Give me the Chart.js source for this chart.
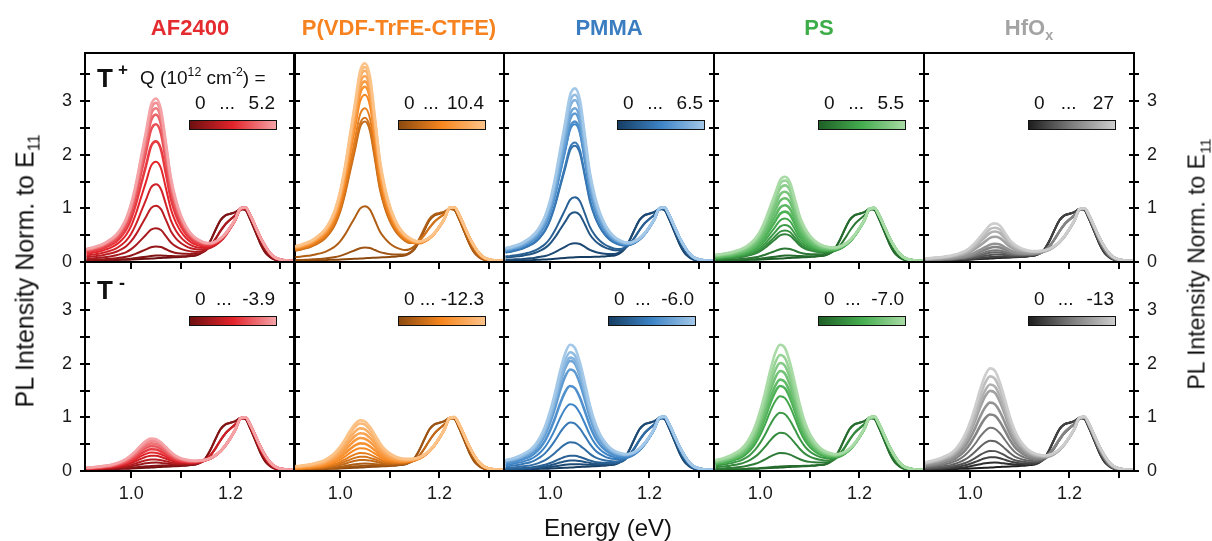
<!DOCTYPE html>
<html>
<head>
<meta charset="utf-8">
<title>PL spectra vs. gate charge</title>
<script src="https://cdn.jsdelivr.net/npm/chart.js@4.4.1/dist/chart.umd.min.js"></script>
<style>
  html, body { margin: 0; padding: 0; background: #fff; }
  #figure { position: relative; width: 1212px; height: 541px; overflow: hidden;
            font-family: "Liberation Sans", Arial, Helvetica, sans-serif; color: #111; }
  #figure canvas { position: absolute; }
  .txt { position: absolute; white-space: nowrap; line-height: 1; z-index: 5; }
  .bar { position: absolute; box-sizing: border-box; border: 1.5px solid #111; z-index: 5; }
  .range { position: absolute; box-sizing: border-box; display: flex; justify-content: space-between;
           font-size: 19px; line-height: 1; transform: translateY(-50%); z-index: 5; padding: 0 2px 0 6px; }
  sub, sup { font-size: 65%; line-height: 0; }
</style>
</head>
<body>
<div id="figure"></div>
<script>
  // Energy grid (eV) and line shapes
  const energy = [0.91, 0.92, 0.93, 0.94, 0.95, 0.96, 0.97, 0.98, 0.99, 1.00,
                  1.01, 1.02, 1.03, 1.04, 1.05, 1.06, 1.07, 1.08, 1.09, 1.10,
                  1.11, 1.12, 1.13, 1.14, 1.15, 1.16, 1.17, 1.18, 1.19, 1.20,
                  1.21, 1.22, 1.23, 1.24, 1.25, 1.26, 1.27, 1.28, 1.29, 1.30,
                  1.31, 1.32, 1.33];
  // trion band, normalised to its own peak (T+ near 1.05 eV, T- near 1.04 eV)
  const trionPlus = [0.075, 0.082, 0.09, 0.10, 0.115, 0.135, 0.16, 0.20, 0.26, 0.35,
                     0.48, 0.64, 0.80, 0.96, 1.00, 0.93, 0.72, 0.50, 0.36, 0.26,
                     0.19, 0.14, 0.105, 0.08, 0.06, 0.045, 0.035, 0.027, 0.02, 0.015,
                     0.011, 0.008, 0.006, 0.004, 0.003, 0.002, 0.002, 0.001, 0.001, 0.001,
                     0, 0, 0];
  const trionMinus = [0.08, 0.09, 0.10, 0.115, 0.135, 0.16, 0.20, 0.26, 0.35, 0.47,
                      0.62, 0.79, 0.93, 1.00, 0.97, 0.85, 0.68, 0.50, 0.36, 0.26,
                      0.19, 0.14, 0.105, 0.08, 0.06, 0.045, 0.034, 0.026, 0.02, 0.015,
                      0.011, 0.008, 0.006, 0.004, 0.003, 0.002, 0.002, 0.001, 0.001, 0.001,
                      0, 0, 0];
  // E11 exciton band: undoped (dark shoulder), partly doped, doped
  const e11Dark = [0.02, 0.02, 0.025, 0.025, 0.03, 0.03, 0.035, 0.04, 0.04, 0.045,
                   0.05, 0.055, 0.06, 0.065, 0.07, 0.075, 0.08, 0.085, 0.09, 0.095,
                   0.10, 0.11, 0.12, 0.16, 0.24, 0.40, 0.60, 0.78, 0.87, 0.90,
                   0.93, 0.99, 0.97, 0.79, 0.57, 0.35, 0.18, 0.09, 0.04, 0.02,
                   0.015, 0.01, 0.01];
  const e11Mid = [0.02, 0.02, 0.025, 0.025, 0.03, 0.03, 0.035, 0.04, 0.04, 0.045,
                  0.05, 0.055, 0.06, 0.065, 0.07, 0.075, 0.08, 0.085, 0.09, 0.10,
                  0.11, 0.12, 0.13, 0.15, 0.20, 0.29, 0.42, 0.57, 0.70, 0.79,
                  0.87, 0.97, 0.99, 0.83, 0.62, 0.41, 0.24, 0.12, 0.06, 0.03,
                  0.02, 0.015, 0.01];
  const e11Light = [0.02, 0.02, 0.025, 0.025, 0.03, 0.03, 0.035, 0.04, 0.04, 0.045,
                    0.05, 0.055, 0.06, 0.065, 0.07, 0.075, 0.08, 0.085, 0.09, 0.10,
                    0.11, 0.12, 0.135, 0.155, 0.18, 0.22, 0.28, 0.36, 0.47, 0.61,
                    0.77, 0.98, 1.00, 0.86, 0.66, 0.46, 0.29, 0.16, 0.08, 0.045,
                    0.03, 0.02, 0.015];

  // Column titles and the end of each Q range (10^12 cm^-2)
  const materials = ['AF2400', 'P(VDF-TrFE-CTFE)', 'PMMA', 'PS', 'HfO<sub>x</sub>'];
  const qPlusEnd = ['5.2', '10.4', '6.5', '5.5', '27'];
  const qMinusEnd = ['-3.9', '-12.3', '-6.0', '-7.0', '-13'];

  // Trion peak height of every spectrum, low Q -> high Q,
  // and which E11 shape it shows (0 dark shoulder, 1 mid, 2 doped)
  const ampPlusAF = [0, 0.05, 0.22, 0.56, 0.98, 1.38, 1.80, 2.18, 2.50, 2.68, 2.80, 2.90, 2.98];
  const kindPlusAF = [0, 0, 1, 1, 2, 2, 2, 2, 2, 2, 2, 2, 2];
  const ampPlusPVDF = [0, 0.20, 0.97, 2.55, 2.62, 2.80, 3.05, 3.20, 3.30, 3.40, 3.50, 3.57, 3.64];
  const kindPlusPVDF = [0, 0, 0, 1, 1, 2, 2, 2, 2, 2, 2, 2, 2];
  const ampPlusPMMA = [0.02, 0.28, 0.86, 1.14, 2.10, 2.16, 2.50, 2.55, 2.70, 2.80, 2.95, 3.05, 3.17];
  const kindPlusPMMA = [0, 0, 1, 1, 2, 2, 2, 2, 2, 2, 2, 2, 2];
  const ampPlusPS = [0, 0.05, 0.18, 0.45, 0.52, 0.62, 0.74, 0.87, 0.99, 1.12, 1.24, 1.36, 1.45, 1.52];
  const kindPlusPS = [0, 0, 1, 2, 2, 2, 2, 2, 2, 2, 2, 2, 2, 2];
  const ampPlusHf = [0, 0.01, 0.03, 0.07, 0.11, 0.15, 0.21, 0.27, 0.40, 0.50, 0.57, 0.65];
  const kindPlusHf = [0, 0, 0, 1, 1, 1, 1, 2, 2, 2, 2, 2];

  const ampMinusAF = [0, 0.03, 0.09, 0.15, 0.22, 0.28, 0.34, 0.40, 0.45, 0.50, 0.54];
  const kindMinusAF = [0, 0, 1, 1, 1, 2, 2, 2, 2, 2, 2];
  const ampMinusPVDF = [0, 0.03, 0.07, 0.14, 0.20, 0.27, 0.36, 0.45, 0.55, 0.64, 0.73, 0.82, 0.88];
  const kindMinusPVDF = [0, 0, 1, 1, 2, 2, 2, 2, 2, 2, 2, 2, 2];
  const ampMinusPMMA = [0, 0.06, 0.13, 0.22, 0.47, 0.84, 1.18, 1.52, 1.83, 1.99, 2.05, 2.15, 2.29];
  const kindMinusPMMA = [0, 0, 1, 1, 1, 2, 2, 2, 2, 2, 2, 2, 2];
  const ampMinusPS = [0, 0.02, 0.27, 0.65, 1.02, 1.33, 1.52, 1.64, 1.80, 1.95, 2.10, 2.29];
  const kindMinusPS = [0, 0, 1, 1, 2, 2, 2, 2, 2, 2, 2, 2];
  const ampMinusHf = [0, 0.09, 0.19, 0.31, 0.50, 0.74, 0.99, 1.21, 1.43, 1.55, 1.70, 1.85];
  const kindMinusHf = [0, 0, 0, 1, 1, 1, 1, 2, 2, 2, 2, 2];

  // Axis ticks
  const xTickLabels = [1.0, 1.2];
  const xTickMarks = [1.0, 1.1, 1.2, 1.3];
  const yTickLabels = [0, 1, 2, 3];
  const yTickMarks = [0, 0.5, 1, 1.5, 2, 2.5, 3, 3.5];

  // Styles
  const titleColors = ['#e42b2f', '#f68220', '#3a7dc0', '#3cad48', '#a3a3a3'];
  const curveShades = [
    ['#6d0f10', '#e3242b', '#f4a3a7'],
    ['#8c4a0f', '#f7871f', '#fcc389'],
    ['#163e63', '#3d84c6', '#a3c8e8'],
    ['#1f5f27', '#45ad4f', '#a8dba5'],
    ['#1e1e1e', '#7d7d7d', '#cdcdcd']
  ];

  const panels = [
    { row: 0, col: 0, amps: ampPlusAF, kinds: kindPlusAF },
    { row: 0, col: 1, amps: ampPlusPVDF, kinds: kindPlusPVDF },
    { row: 0, col: 2, amps: ampPlusPMMA, kinds: kindPlusPMMA },
    { row: 0, col: 3, amps: ampPlusPS, kinds: kindPlusPS },
    { row: 0, col: 4, amps: ampPlusHf, kinds: kindPlusHf },
    { row: 1, col: 0, amps: ampMinusAF, kinds: kindMinusAF },
    { row: 1, col: 1, amps: ampMinusPVDF, kinds: kindMinusPVDF },
    { row: 1, col: 2, amps: ampMinusPMMA, kinds: kindMinusPMMA },
    { row: 1, col: 3, amps: ampMinusPS, kinds: kindMinusPS },
    { row: 1, col: 4, amps: ampMinusHf, kinds: kindMinusHf }
  ];

  // Layout of the grid (page pixels)
  const colLeft = [85, 294, 504, 714, 924];
  const rowTop = [53, 262];
  const panelW = 210, panelH = 209, PAD = 50;
  const FONT = '"Liberation Sans", Arial, Helvetica, sans-serif';
  Chart.defaults.font.family = FONT;

  function hexToRgb(h) {
    return [parseInt(h.slice(1, 3), 16), parseInt(h.slice(3, 5), 16), parseInt(h.slice(5, 7), 16)];
  }
  function shade(stops, t) {
    let a, b, f;
    if (t < 0.5) { a = stops[0]; b = stops[1]; f = t / 0.5; }
    else { a = stops[1]; b = stops[2]; f = (t - 0.5) / 0.5; }
    const ca = hexToRgb(a), cb = hexToRgb(b);
    const c = ca.map((v, i) => Math.round(v + (cb[i] - v) * f));
    return 'rgb(' + c.join(',') + ')';
  }

  const e11Shapes = [e11Dark, e11Mid, e11Light];

  function buildSpectra(p) {
    const trion = p.row === 0 ? trionPlus : trionMinus;
    const n = p.amps.length;
    const sets = p.amps.map((a, k) => ({
      data: energy.map((e, i) => ({ x: e, y: a * trion[i] + e11Shapes[p.kinds[k]][i] })),
      borderColor: shade(curveShades[p.col], k / (n - 1)),
      borderWidth: k >= n / 2 ? 2.6 : 2, // noisy high-Q spectra look thicker
      pointRadius: 0,
      cubicInterpolationMode: 'monotone',
      fill: false,
      xAxisID: 'x',
      yAxisID: 'y'
    }));
    return sets.reverse(); // high-Q (light) curves on top
  }

  // black frame plus tick marks crossing the frame
  const framePlugin = {
    id: 'frame',
    afterDatasetsDraw(chart) {
      const ctx = chart.ctx, a = chart.chartArea;
      const x = chart.scales.x, y = chart.scales.y;
      ctx.save();
      ctx.strokeStyle = '#000';
      ctx.lineWidth = 2;
      ctx.strokeRect(a.left, a.top, a.right - a.left, a.bottom - a.top);
      ctx.beginPath();
      yTickMarks.forEach(v => {
        const py = Math.round(y.getPixelForValue(v));
        ctx.moveTo(a.left - 5, py); ctx.lineTo(a.left + 5, py);
        ctx.moveTo(a.right - 5, py); ctx.lineTo(a.right + 5, py);
      });
      xTickMarks.forEach(v => {
        const px = Math.round(x.getPixelForValue(v));
        ctx.moveTo(px, a.bottom); ctx.lineTo(px, a.bottom + 7);
      });
      ctx.stroke();
      ctx.restore();
    }
  };

  const figure = document.getElementById('figure');

  panels.forEach(p => {
    const canvas = document.createElement('canvas');
    canvas.width = panelW + 2 * PAD;
    canvas.height = panelH + 2 * PAD;
    canvas.style.left = (colLeft[p.col] - PAD) + 'px';
    canvas.style.top = (rowTop[p.row] - PAD) + 'px';
    figure.appendChild(canvas);

    const tickFont = { size: 18, family: FONT };
    new Chart(canvas.getContext('2d'), {
      type: 'line',
      data: { datasets: buildSpectra(p) },
      options: {
        responsive: false,
        animation: false,
        events: [],
        layout: { padding: { top: PAD } },
        plugins: { legend: { display: false }, tooltip: { enabled: false } },
        scales: {
          x: {
            type: 'linear', min: 0.907, max: 1.33,
            grid: { display: false, drawTicks: false }, border: { display: false },
            afterBuildTicks: s => { s.ticks = xTickLabels.map(v => ({ value: v })); },
            ticks: { display: p.row === 1, padding: 12, font: tickFont, color: '#1a1a1a',
                     callback: v => v.toFixed(1) },
            afterFit: s => { s.height = PAD; }
          },
          y: {
            position: 'left', min: 0, max: 3.9,
            grid: { display: false, drawTicks: false }, border: { display: false },
            afterBuildTicks: s => { s.ticks = yTickLabels.map(v => ({ value: v })); },
            ticks: { display: p.col === 0, padding: 13, font: tickFont, color: '#1a1a1a' },
            afterFit: s => { s.width = PAD; }
          },
          yR: {
            position: 'right', min: 0, max: 3.9,
            grid: { display: false, drawTicks: false }, border: { display: false },
            afterBuildTicks: s => { s.ticks = yTickLabels.map(v => ({ value: v })); },
            ticks: { display: p.col === 4, padding: 13, font: tickFont, color: '#1a1a1a' },
            afterFit: s => { s.width = PAD; }
          }
        }
      },
      plugins: [framePlugin]
    });
  });

  // ---- text and colour bars ----
  function addText(html, x, y, css) {
    const d = document.createElement('div');
    d.className = 'txt';
    d.innerHTML = html;
    d.style.left = x + 'px';
    d.style.top = y + 'px';
    Object.assign(d.style, css || {});
    figure.appendChild(d);
    return d;
  }

  materials.forEach((m, c) => {
    addText(m, colLeft[c] + panelW / 2, 28, { fontWeight: 'bold', fontSize: '22px',
      color: titleColors[c], transform: 'translate(-50%, -50%)' });
  });

  addText('T', 97, 77.5, { fontWeight: 'bold', fontSize: '26px', transform: 'translateY(-50%)' });
  addText('+', 118, 69, { fontWeight: 'bold', fontSize: '17px', transform: 'translateY(-50%)' });
  addText('Q (10<sup>12</sup> cm<sup>-2</sup>) =', 140, 77, { fontSize: '19px', transform: 'translateY(-50%)' });
  addText('T', 97, 290, { fontWeight: 'bold', fontSize: '26px', transform: 'translateY(-50%)' });
  addText('-', 119, 283, { fontWeight: 'bold', fontSize: '18px', transform: 'translateY(-50%)' });

  [qPlusEnd, qMinusEnd].forEach((ends, r) => {
    ends.forEach((q, c) => {
      const left = colLeft[c] + (r === 0 && c === 2 ? 113 : 104);
      const barTop = rowTop[r] + (r === 0 ? 67 : 54);
      const bar = document.createElement('div');
      bar.className = 'bar';
      bar.style.left = left + 'px';
      bar.style.top = barTop + 'px';
      bar.style.width = '88px';
      bar.style.height = '10px';
      const s = curveShades[c];
      bar.style.background = 'linear-gradient(to right, ' + s[0] + ', ' + s[1] + ', ' + s[2] + ')';
      figure.appendChild(bar);

      const rg = document.createElement('div');
      rg.className = 'range';
      rg.style.left = left + 'px';
      rg.style.top = (rowTop[r] + (r === 0 ? 48.5 : 36)) + 'px';
      rg.style.width = '88px';
      rg.innerHTML = '<span>0</span><span>...</span><span>' + q + '</span>';
      figure.appendChild(rg);
    });
  });

  addText('Energy (eV)', 608, 528, { fontSize: '24px', transform: 'translate(-50%, -50%)' });
  addText('PL Intensity Norm. to E<sub>11</sub>', 24.5, 271,
    { fontSize: '25px', transform: 'translate(-50%, -50%) rotate(-90deg)' });
  addText('PL Intensity Norm. to E<sub>11</sub>', 1197, 264,
    { fontSize: '23px', transform: 'translate(-50%, -50%) rotate(-90deg)' });
</script>
</body>
</html>
